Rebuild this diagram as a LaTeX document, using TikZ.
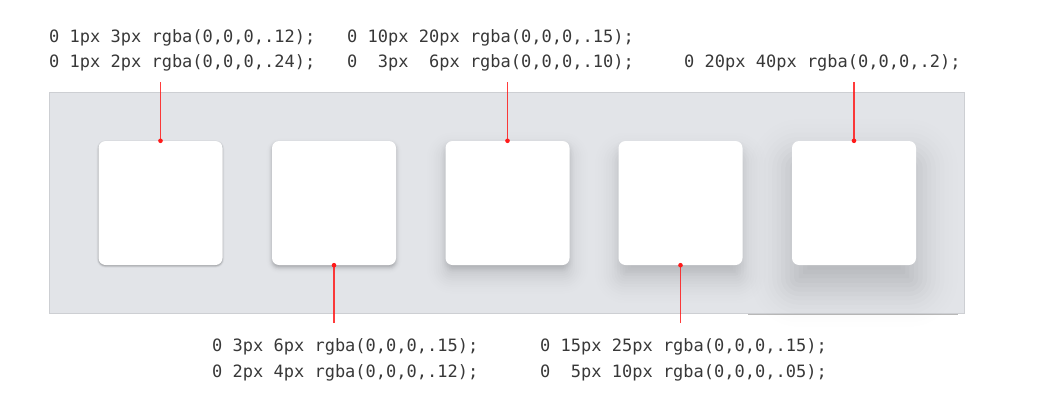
\documentclass[tikz,border=0pt]{standalone}
\usepackage{fontspec}
\setmonofont{DejaVu Sans Mono}
\definecolor{panelfill}{HTML}{E2E4E8}
\definecolor{panelline}{HTML}{CDCFD3}
\definecolor{txt}{HTML}{383838}
\definecolor{pin}{HTML}{FF1A1A}
% #1 cx, #2 cy, #3 y offset, #4 blur, #5 alpha
\newcommand\boxshadow[5]{%
  \foreach \k in {0,...,19}{%
    \pgfmathsetmacro\myt{-2.2+4.4*(\k+0.5)/20}%
    \pgfmathsetmacro\mye{\myt*#4/2}%
    \pgfmathsetmacro\myw{#5*exp(-\myt*\myt/2)/sqrt(2*pi)*0.22}%
    \pgfmathsetmacro\myr{max(7+\mye,0.5)}%
    \pgfmathsetmacro\myh{62+\mye}%
    \fill[black,opacity=\myw,rounded corners=\myr pt]
      ({#1-\myh},{#2+#3-\myh}) rectangle ({#1+\myh},{#2+#3+\myh});
  }%
}
\begin{document}
\begin{tikzpicture}[x=1pt,y=-1pt,
  card/.style={fill=white,rounded corners=7pt,minimum width=124pt,minimum height=124pt,inner sep=0pt},
  code/.style={font=\ttfamily\fontsize{17}{20}\selectfont,text=txt,inner sep=0pt,anchor=base west},
  pinline/.style={draw=pin,line width=1.3pt,opacity=0.85},
  pindot/.style={fill=pin}]
\useasboundingbox (0,0) rectangle (1037,402);
% panel
\node[draw=panelline,fill=panelfill,line width=1pt,minimum width=915pt,minimum height=221pt,inner sep=0pt,anchor=north west] (panel) at (49,92) {};
\draw[color=black!28,line width=1pt] (748,314.3) -- (958,314.3);
% shadows
\boxshadow{160.5}{203}{1}{3}{0.12}
\boxshadow{160.5}{203}{1}{2}{0.24}
\boxshadow{334}{203}{3}{6}{0.15}
\boxshadow{334}{203}{2}{4}{0.12}
\boxshadow{507.5}{203}{10}{20}{0.15}
\boxshadow{507.5}{203}{3}{6}{0.10}
\boxshadow{680.5}{203}{15}{25}{0.15}
\boxshadow{680.5}{203}{5}{10}{0.05}
\boxshadow{854}{203}{20}{40}{0.2}
% cards
\node[card] (c1) at (160.5,203) {};
\node[card] (c2) at (334,203) {};
\node[card] (c3) at (507.5,203) {};
\node[card] (c4) at (680.5,203) {};
\node[card] (c5) at (854,203) {};
% pins
\coordinate (p1) at (160.5,82);
\coordinate (p2) at (334,323);
\coordinate (p3) at (507.5,82);
\coordinate (p4) at (680.5,323);
\coordinate (p5) at (854,82);
\draw[pinline] (p1) -- (c1.north);
\draw[pinline] (p2) -- (c2.south);
\draw[pinline] (p3) -- (c3.north);
\draw[pinline] (p4) -- (c4.south);
\draw[pinline] (p5) -- (c5.north);
\fill[pindot] (c1.north) circle (2.3pt);
\fill[pindot] (c2.south) circle (2.3pt);
\fill[pindot] (c3.north) circle (2.3pt);
\fill[pindot] (c4.south) circle (2.3pt);
\fill[pindot] (c5.north) circle (2.3pt);
% texts
\node[code] (t1a) at (49,42) {0 1px 3px rgba(0,0,0,.12);};
\node[code] (t1b) at (49,67) {0 1px 2px rgba(0,0,0,.24);};
\node[code] (t3a) at (347,42) {0 10px 20px rgba(0,0,0,.15);};
\node[code] (t3b) at (347,67) {0\ \ 3px\ \ 6px rgba(0,0,0,.10);};
\node[code] (t5a) at (684,67) {0 20px 40px rgba(0,0,0,.2);};
\node[code] (t2a) at (212,351) {0 3px 6px rgba(0,0,0,.15);};
\node[code] (t2b) at (212,377) {0 2px 4px rgba(0,0,0,.12);};
\node[code] (t4a) at (540,351) {0 15px 25px rgba(0,0,0,.15);};
\node[code] (t4b) at (540,377) {0\ \ 5px 10px rgba(0,0,0,.05);};
\end{tikzpicture}
\end{document}
